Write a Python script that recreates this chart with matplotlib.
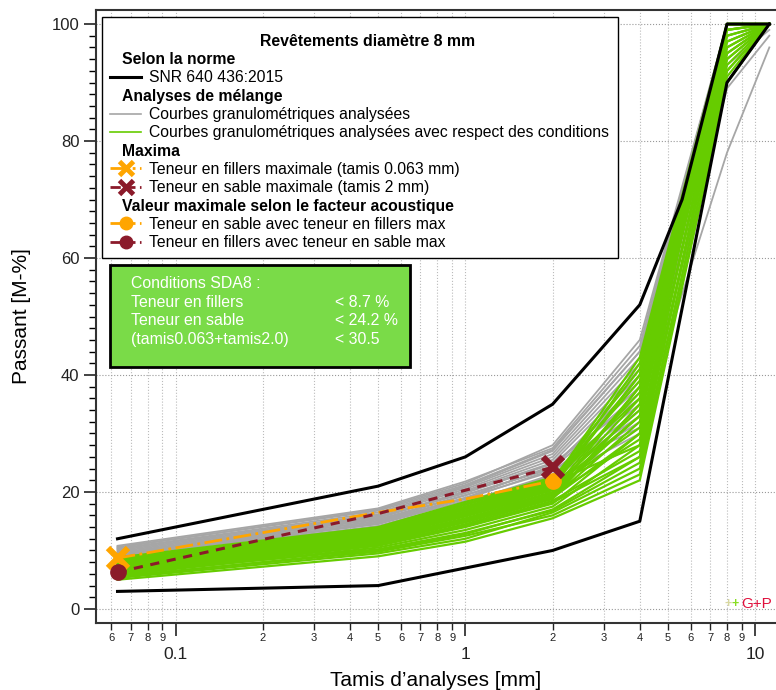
import matplotlib
matplotlib.use('Agg')
import matplotlib.pyplot as plt
from matplotlib.lines import Line2D
from matplotlib.patches import Rectangle
from matplotlib.ticker import FixedLocator, FixedFormatter
import numpy as np

plt.rcParams['font.family'] = ['Liberation Sans', 'DejaVu Sans']

# sieve sizes [mm]
sieves = [0.063, 0.5, 1, 2, 4, 8, 11.2]

# SNR 640 436:2015 envelope
norm_upper_x = [0.063, 0.5, 1, 2, 4, 5.6, 8, 11.2]
norm_upper = [12, 21, 26, 35, 52, 70, 100, 100]
norm_lower_x = [0.063, 0.5, 1, 2, 4, 8, 11.2]
norm_lower = [3, 4, 7, 10, 15, 90, 100]

# analysed mixes (passing % at each sieve)
gray_curves = [
    [9.0, 14.5, 18.5, 22.5, 32, 100, 100],
    [9.3, 15.0, 19.0, 23.5, 35, 100, 100],
    [9.5, 15.3, 19.5, 24.0, 37, 100, 100],
    [9.8, 15.8, 20.0, 25.0, 40, 100, 100],
    [10.0, 16.0, 20.5, 26.0, 42, 100, 100],
    [10.3, 16.5, 21.0, 27.0, 44, 100, 100],
    [10.5, 17.0, 21.5, 28.0, 46, 100, 100],
    [8.8, 14.8, 19.0, 24.5, 38, 98, 100],
    [9.2, 15.5, 20.2, 25.5, 41, 100, 100],
    [8.6, 14.2, 18.2, 23.0, 34, 95, 100],
    [9.6, 15.6, 19.8, 24.8, 36, 97, 100],
    [10.2, 16.2, 20.8, 26.5, 43, 100, 100],
    [8.4, 13.8, 17.5, 22.0, 30, 89, 98],
    [9.0, 14.6, 18.8, 23.8, 31, 78, 96],
    [10.8, 17.2, 21.8, 27.5, 45, 100, 100],
    [8.9, 15.1, 19.4, 24.2, 39, 99, 100],
    [9.4, 14.0, 18.0, 22.8, 33, 93, 99],
    [10.6, 16.8, 21.2, 27.2, 44, 100, 100],
]

# analysed mixes respecting the SDA8 conditions
green_curves = [
    [5.0, 9.0, 11.5, 15.5, 22, 90, 100],
    [5.3, 9.5, 12.0, 16.5, 24, 92, 100],
    [5.5, 10.0, 12.8, 17.0, 26, 95, 100],
    [5.8, 10.5, 13.5, 17.5, 28, 97, 100],
    [6.0, 10.8, 14.0, 18.0, 30, 100, 100],
    [6.2, 11.0, 14.2, 18.5, 27, 93, 100],
    [6.4, 11.3, 14.8, 19.0, 32, 98, 100],
    [6.5, 11.5, 15.0, 19.2, 35, 100, 100],
    [6.7, 11.8, 15.3, 19.5, 29, 96, 100],
    [6.8, 12.0, 15.5, 19.8, 33, 99, 100],
    [7.0, 12.2, 15.8, 20.0, 36, 100, 100],
    [7.1, 12.4, 16.0, 20.3, 38, 100, 100],
    [7.2, 12.5, 16.2, 20.5, 31, 94, 100],
    [7.4, 12.7, 16.5, 20.8, 40, 100, 100],
    [7.5, 12.8, 16.7, 21.0, 34, 98, 100],
    [7.6, 13.0, 17.0, 21.2, 42, 100, 100],
    [7.8, 13.2, 17.2, 21.5, 37, 100, 100],
    [8.0, 13.4, 17.5, 21.8, 43, 100, 100],
    [8.2, 13.6, 17.8, 22.0, 39, 99, 100],
    [8.5, 13.8, 18.0, 22.2, 41, 100, 100],
    [8.8, 14.0, 18.3, 22.5, 36, 97, 100],
    [6.1, 10.2, 13.0, 16.8, 25, 91, 100],
    [5.6, 9.8, 12.5, 16.0, 23, 90, 100],
    [7.3, 12.0, 15.2, 19.0, 30, 95, 100],
    [6.9, 11.6, 15.0, 19.5, 38, 100, 100],
    [7.7, 12.6, 16.3, 20.6, 33, 96, 100],
    [8.3, 13.1, 17.0, 21.4, 40, 100, 100],
    [6.3, 11.0, 14.5, 18.8, 35, 99, 100],
    [7.9, 13.3, 17.3, 21.6, 28, 92, 100],
    [6.6, 11.2, 14.3, 18.2, 26, 94, 100],
]

# maxima curves
max_x = [0.063, 0.5, 1, 2]
fillers_max = [8.7, 16.5, 18.8, 21.9]
sable_max = [6.3, 16.3, 20.3, 24.2]

cond_labels = ['Conditions SDA8 :', 'Teneur en fillers', 'Teneur en sable', '(tamis0.063+tamis2.0)']
cond_values = ['', '< 8.7 %', '< 24.2 %', '< 30.5']

GRAY = '#A6A6A6'
GREEN = '#66CC00'
ORANGE = '#FFA500'
DRED = '#8B1A2A'


def main():
    fig = plt.figure(figsize=(7.76, 6.9), dpi=100)
    ax = fig.add_axes([96/776, 67/690, 680/776, 613/690])

    for c in gray_curves:
        ax.plot(sieves, c, color=GRAY, lw=1.3)
    for c in green_curves:
        ax.plot(sieves, c, color=GREEN, lw=1.6)

    ax.plot(norm_upper_x, norm_upper, color='black', lw=2.2)
    ax.plot(norm_lower_x, norm_lower, color='black', lw=2.2)

    ax.plot(max_x, fillers_max, color=ORANGE, ls='-.', lw=2)
    ax.plot(max_x, sable_max, color=DRED, ls=(0, (3, 2.5)), lw=2.2)
    ax.plot(max_x[0], fillers_max[0], marker='x', color=ORANGE, ms=14, mew=4.5, ls='none')
    ax.plot(max_x[-1], fillers_max[-1], marker='o', color=ORANGE, ms=11, ls='none')
    ax.plot(max_x[-1], sable_max[-1], marker='x', color=DRED, ms=14, mew=4.5, ls='none')
    ax.plot(max_x[0], sable_max[0], marker='o', color=DRED, ms=11, ls='none')

    # axes
    ax.set_xscale('log')
    ax.set_xlim(0.0531, 11.81)
    ax.set_ylim(-2.4, 102.4)
    ax.xaxis.set_major_locator(FixedLocator([0.1, 1, 10]))
    ax.xaxis.set_major_formatter(FixedFormatter(['0.1', '1', '10']))
    minor = [0.06, 0.07, 0.08, 0.09] + [d * 0.1 for d in range(2, 10)] + list(range(2, 10))
    minor_lab = ['6', '7', '8', '9'] + [str(d) for d in range(2, 10)] * 2
    ax.xaxis.set_minor_locator(FixedLocator(minor))
    ax.xaxis.set_minor_formatter(FixedFormatter(minor_lab))
    ax.yaxis.set_major_locator(FixedLocator(range(0, 101, 20)))
    ax.yaxis.set_minor_locator(FixedLocator(range(0, 101, 2)))

    ax.tick_params(axis='x', which='major', length=9, width=1.2, pad=8, labelsize=12.5, colors='#222222')
    ax.tick_params(axis='x', which='minor', length=5, width=1.0, pad=2, labelsize=8, colors='#222222')
    ax.tick_params(axis='y', which='major', length=9, width=1.2, pad=3, labelsize=12, colors='#222222')
    ax.tick_params(axis='y', which='minor', length=5, width=1.0)

    ax.grid(which='both', axis='x', ls=':', color='#BBBBBB', lw=0.8)
    ax.grid(which='major', axis='y', ls=':', color='#999999', lw=0.8)
    ax.set_axisbelow(True)
    for s in ['left', 'top', 'bottom']:
        ax.spines[s].set_linewidth(1.5)
        ax.spines[s].set_color('#333333')
    ax.spines['right'].set_visible(False)

    ax.set_xlabel('Tamis d\u2019analyses [mm]', fontsize=15, labelpad=7)
    ax.set_ylabel('Passant [M-%]', fontsize=15, labelpad=15)

    # legend
    blank = Line2D([], [], color='none')
    handles = [
        blank,
        Line2D([], [], color='black', lw=2.2),
        blank,
        Line2D([], [], color=GRAY, lw=1.2),
        Line2D([], [], color=GREEN, lw=1.2),
        blank,
        Line2D([], [], color=ORANGE, ls='-.', lw=2, marker='x', ms=10, mew=3.5),
        Line2D([], [], color=DRED, ls='--', lw=2, marker='x', ms=10, mew=3.5),
        blank,
        Line2D([], [], color=ORANGE, ls='-.', lw=2, marker='o', ms=9),
        Line2D([], [], color=DRED, ls='--', lw=2, marker='o', ms=9),
    ]
    labels = [
        'Selon la norme',
        'SNR 640 436:2015',
        'Analyses de m\u00e9lange',
        'Courbes granulom\u00e9triques analys\u00e9es',
        'Courbes granulom\u00e9triques analys\u00e9es avec respect des conditions',
        'Maxima',
        'Teneur en fillers maximale (tamis 0.063 mm)',
        'Teneur en sable maximale (tamis 2 mm)',
        'Valeur maximale selon le facteur acoustique',
        'Teneur en sable avec teneur en fillers max',
        'Teneur en fillers avec teneur en sable max',
    ]
    headers = [0, 2, 5, 8]
    ax.add_patch(Rectangle((0.0088, 0.5954), 0.7588, 0.3932, transform=ax.transAxes,
                           facecolor='white', edgecolor='black', lw=1.0, zorder=4.5))
    leg = ax.legend(handles, labels, loc='upper left', bbox_to_anchor=(0.0088, 0.9739),
                    borderaxespad=0, fontsize=11.3, handlelength=2.0, handletextpad=0.5,
                    labelspacing=0.21, borderpad=0.5, frameon=False,
                    title='Rev\u00eatements diam\u00e8tre 8 mm',
                    title_fontproperties={'weight': 'bold', 'size': 11.4})
    leg.get_title().set_x(8)
    for i, t in enumerate(leg.get_texts()):
        if i in headers:
            t.set_fontweight('bold')
            t.set_x(-27)

    # conditions box
    ax.add_patch(Rectangle((0.0206, 0.4176), 0.4412, 0.1664, transform=ax.transAxes,
                           facecolor='#7ADB48', edgecolor='black', lw=2, zorder=5))
    ax.text(0.0515, 0.5656, '\n'.join(cond_labels), transform=ax.transAxes, ha='left', va='top',
            color='white', fontsize=11.4, linespacing=1.3, zorder=6)
    ax.text(0.3515, 0.5656, '\n'.join(cond_values), transform=ax.transAxes, ha='left', va='top',
            color='white', fontsize=11.4, linespacing=1.3, zorder=6)

    # logo
    ax.text(0.929, 0.0315, '+', transform=ax.transAxes, color='#D8D8A0', fontsize=9,
            fontweight='bold', ha='center', va='center')
    ax.text(0.940, 0.0315, '+', transform=ax.transAxes, color='#88DD22', fontsize=9,
            fontweight='bold', ha='center', va='center')
    ax.text(0.949, 0.0315, 'G+P', transform=ax.transAxes, color='#E0103C', fontsize=11,
            ha='left', va='center')

    fig.savefig('out.png', dpi=100)


main()
